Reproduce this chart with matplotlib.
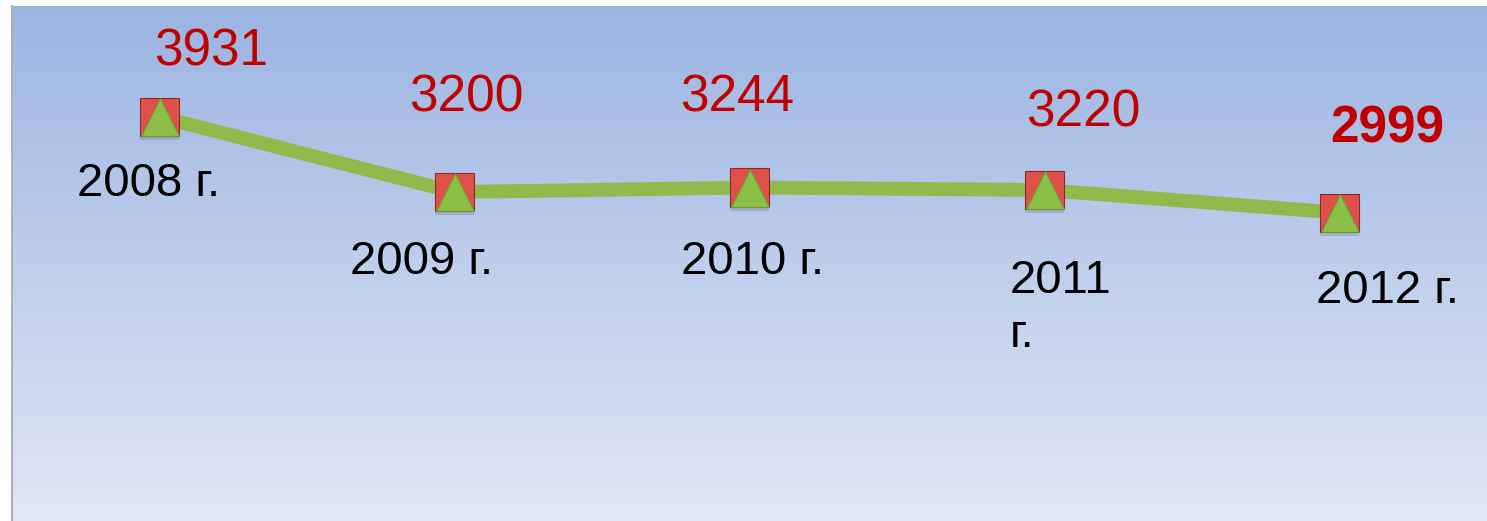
import numpy as np
import matplotlib.pyplot as plt
import matplotlib.patheffects as pe

plt.rcParams['font.family'] = ['Liberation Sans', 'DejaVu Sans']

years = ["2008 г.", "2009 г.", "2010 г.", "2011\nг.", "2012 г."]
values = [3931, 3200, 3244, 3220, 2999]

# label offsets in pixels (value label, year label)
value_offsets = [(52, 65), (12, 94), (-12, 90), (39, 77), (48, 84)]
year_offsets = [(-11, -67), (-33, -70), (3, -74), (-35, -118), (48, -78)]
year_ha = ["center", "center", "center", "left", "center"]

fig = plt.figure(figsize=(14.87, 5.21), dpi=100)
fig.patch.set_facecolor("white")
ax = fig.add_axes([12 / 1487, 0, 1475 / 1487, 515 / 521])

# vertical gradient background
top = np.array([155, 181, 226]) / 255
bottom = np.array([225, 231, 245]) / 255
t = np.linspace(0, 1, 256)[:, None]
grad = top * (1 - t) + bottom * t
ax.imshow(grad[:, None, :], aspect="auto", extent=[0, 1, 0, 1],
          transform=ax.transAxes, zorder=0)

x = np.arange(len(values))
ax.plot(x, values, color="#8fbb4c", lw=10, solid_capstyle="butt", zorder=2)
ax.plot(x, values, ls="none", marker="s", ms=27.5, mfc="#e0504a",
        mec="#8a2a25", mew=0.8, zorder=3,
        path_effects=[pe.SimplePatchShadow(offset=(0, -3), alpha=0.15),
                      pe.Normal()])
ax.plot(x, values, ls="none", marker="^", ms=27.5, mfc="#8cc046",
        mec="#6a9a35", mew=0.8, zorder=4)

for i, v in enumerate(values):
    bold = "bold" if i == len(values) - 1 else "normal"
    ax.annotate(str(v), (x[i], v), xytext=value_offsets[i],
                textcoords="offset pixels", ha="center", va="center",
                fontsize=37, color="#c00000", fontweight=bold)
    ax.annotate(years[i], (x[i], v), xytext=year_offsets[i],
                textcoords="offset pixels", ha=year_ha[i], va="center",
                fontsize=34, color="black", linespacing=1.3)

ax.set_xlim(-0.5, len(values) - 0.5)
ax.set_ylim(0, 5010)
ax.set_xticks([])
ax.set_yticks([])
for s in ["top", "right", "bottom"]:
    ax.spines[s].set_visible(False)
ax.spines["left"].set_color("#b0b0b0")
ax.spines["left"].set_linewidth(1.5)

fig.savefig("out.png", dpi=100)
